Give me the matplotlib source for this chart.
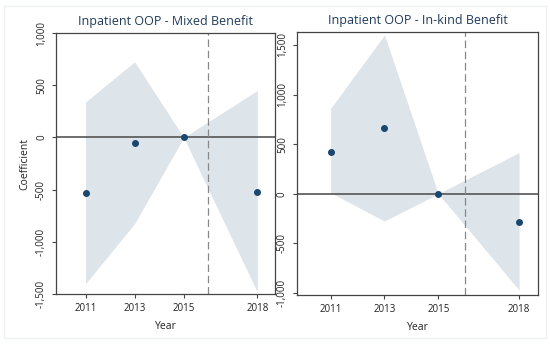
import matplotlib.pyplot as plt
import matplotlib.patches as mpatches

plt.rcParams['font.family'] = ['Open Sans', 'DejaVu Sans']

years = [2011, 2013, 2015, 2018]

# Mixed benefit
mixed_coef = [-530, -50, 0, -525]
mixed_lo = [-1400, -825, 0, -1480]
mixed_hi = [340, 725, 0, 450]

# In-kind benefit
inkind_coef = [425, 665, 0, -285]
inkind_lo = [10, -275, 0, -970]
inkind_hi = [860, 1600, 0, 415]

navy = '#1a476f'
band = '#dde4ea'

fig = plt.figure(figsize=(5.5, 3.44), dpi=100)
fig.patch.set_facecolor('white')
fig.patches.append(mpatches.Rectangle((0.008, 0.018), 0.984, 0.964, transform=fig.transFigure,
                                      fill=False, edgecolor='#eef2f4', linewidth=1))

ax1 = fig.add_axes([0.102, 0.145, 0.398, 0.759])
ax2 = fig.add_axes([0.540, 0.142, 0.438, 0.765])


def draw(ax, coef, lo, hi, title, ylim, yticks):
    ax.fill_between(years, lo, hi, color=band, linewidth=0, zorder=1)
    ax.axhline(0, color='#555555', linewidth=1.2, zorder=2)
    ax.axvline(2016, color='#888888', linewidth=0.9, linestyle=(0, (6, 3)), zorder=2)
    ax.scatter(years, coef, s=16, color=navy, zorder=3)
    ax.set_xlim(2009.8, 2018.72)
    ax.set_ylim(*ylim)
    ax.set_xticks(years)
    ax.set_yticks(yticks)
    ax.set_yticklabels([f'{v:,}' for v in yticks], rotation=90, va='center')
    ax.tick_params(labelsize=7, length=3, width=0.8, color='#444444', labelcolor='#222222')
    for s in ax.spines.values():
        s.set_color('#444444')
        s.set_linewidth(0.9)
    ax.set_title(title, fontsize=9, color='#1f3a5a', pad=6)
    ax.set_xlabel('Year', fontsize=7.5, color='#222222', labelpad=5)


draw(ax1, mixed_coef, mixed_lo, mixed_hi, 'Inpatient OOP - Mixed Benefit',
     (-1500, 1000), [-1500, -1000, -500, 0, 500, 1000])
ax1.set_ylabel('Coefficient', fontsize=7.5, color='#222222', labelpad=4)

draw(ax2, inkind_coef, inkind_lo, inkind_hi, 'Inpatient OOP - In-kind Benefit',
     (-1022, 1630), [-1000, -500, 0, 500, 1000, 1500])
ax2.set_xlim(2009.75, 2018.7)

fig.savefig('out.png', dpi=100)
